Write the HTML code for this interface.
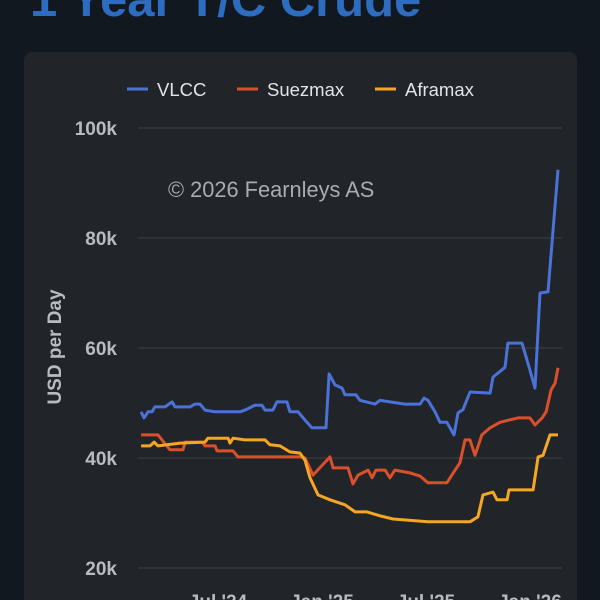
<!DOCTYPE html>
<html><head><meta charset="utf-8">
<style>
html,body{margin:0;padding:0;background:#121820;width:600px;height:600px;overflow:hidden;font-family:"Liberation Sans",sans-serif;position:relative;}
#title{position:absolute;left:30px;top:-28px;font-size:49px;font-weight:bold;color:#2e6cc0;white-space:nowrap;line-height:56px;}
#card{position:absolute;left:24px;top:52px;width:553px;height:548px;background:#212428;border-radius:8px 8px 0 0;}
svg{position:absolute;left:0;top:0;}
</style></head><body>
<div id="title">1 Year T/C Crude</div>
<div id="card"></div>
<svg id="chart" width="600" height="600"></svg>
<script>
const yTicks=[20,40,60,80,100];
const xTickLabels=["Jul '24","Jan '25","Jul '25","Jan '26"];
const xTickMonths=[0,6,12,18];
const vlccT=[-4.44,-4.27,-4.04,-3.81,-3.64,-3.06,-2.65,-2.48,-1.62,-1.33,-1.04,-0.75,-0.17,1.27,1.56,2.13,2.54,2.71,3.17,3.40,3.98,4.15,4.62,5.02,5.42,6.23,6.41,6.75,7.16,7.33,7.96,8.19,9.06,9.35,9.92,10.79,11.66,11.89,12.12,12.52,12.81,13.21,13.62,13.85,14.14,14.54,15.70,15.87,16.56,16.73,17.54,18.00,18.29,18.58,19.04,19.62];
const vlccV=[48.4,47.3,48.4,48.4,49.3,49.3,50.2,49.3,49.3,49.8,49.8,48.7,48.4,48.4,48.7,49.6,49.6,48.7,48.7,50.2,50.2,48.4,48.4,46.9,45.5,45.5,55.3,53.3,52.7,51.5,51.5,50.5,49.8,50.5,50.2,49.8,49.8,50.9,50.5,48.4,46.5,46.5,44.2,48.2,48.8,52.0,51.8,54.7,56.5,60.9,60.9,56.0,52.7,70.0,70.2,92.4];
const suezT=[-4.44,-3.46,-2.77,-2.02,-1.90,-0.92,-0.75,-0.17,-0.06,0.87,1.15,4.73,5.02,5.48,6.46,6.64,7.50,7.79,8.08,8.66,8.89,9.12,9.64,9.92,10.21,11.08,11.66,12.12,13.21,13.68,13.96,14.25,14.54,14.83,15.23,15.70,16.27,17.31,18.00,18.29,18.70,18.93,19.22,19.45,19.62];
const suezV=[44.2,44.2,41.5,41.5,42.9,42.9,42.2,42.2,41.3,41.3,40.2,40.2,40.0,36.9,40.2,38.2,38.2,35.3,36.9,37.8,36.4,37.8,37.8,36.4,37.8,37.3,36.7,35.5,35.5,37.8,39.1,43.3,43.3,40.5,44.2,45.5,46.5,47.3,47.3,46.0,47.3,48.4,52.4,53.6,56.4];
const afraT=[-4.44,-3.92,-3.69,-3.46,-2.19,-0.75,-0.58,0.58,0.69,0.87,1.56,2.71,3.00,3.58,4.15,4.73,5.02,5.31,5.77,6.46,7.33,7.91,8.60,9.35,10.10,12.12,14.54,15.00,15.29,15.87,16.10,16.68,16.79,18.18,18.47,18.76,19.16,19.62];
const afraV=[42.2,42.2,42.9,42.2,42.7,42.9,43.6,43.6,42.7,43.6,43.3,43.3,42.4,42.2,41.1,40.9,39.6,36.4,33.3,32.4,31.5,30.2,30.2,29.5,28.9,28.4,28.4,29.3,33.3,33.8,32.4,32.4,34.2,34.2,40.2,40.5,44.2,44.2];
const NS='http://www.w3.org/2000/svg';
const svg=document.getElementById('chart');
const xS=t=>218+t*17.33;
const yS=v=>128+(100-v)*5.5;
function mk(tag,attrs,parent){const e=document.createElementNS(NS,tag);for(const k in attrs)e.setAttribute(k,attrs[k]);(parent||svg).appendChild(e);return e;}
yTicks.forEach(v=>{
  const l=mk('line',{x1:138,x2:562,y1:yS(v),y2:yS(v),stroke:'#3d4146','stroke-width':1});
  
  
  const t=mk('text',{x:117,y:yS(v)+7,'text-anchor':'end',fill:'#b8bcc2','font-size':19,'font-weight':'bold'});
  t.textContent=v+'k';
  
  
});
xTickMonths.forEach((m,i)=>{
  const t=mk('text',{x:xS(m),y:608,'text-anchor':'middle',fill:'#b8bcc2','font-size':19,'font-weight':'bold'});
  t.textContent=xTickLabels[i];
  
  
});
const yt=mk('text',{x:0,y:0,transform:'translate(61,347) rotate(-90)','text-anchor':'middle',fill:'#b8bcc2','font-size':19,'font-weight':'bold'});
yt.textContent='USD per Day';


const wm=mk('text',{x:168,y:197,fill:'#a8abb0','font-size':21.8});
wm.textContent='© 2026 Fearnleys AS';


const series=[['vlcc',vlccT,vlccV,'#4a72d8','VLCC',127],['suezmax',suezT,suezV,'#d9502a','Suezmax',237],['aframax',afraT,afraV,'#f5a623','Aframax',375]];
series.forEach(s=>{
  const d=s[1].map((t,i)=>(i?'L':'M')+xS(t).toFixed(1)+','+yS(s[2][i]).toFixed(1)).join('');
  const p=mk('path',{d:d,fill:'none',stroke:s[3],'stroke-width':3,'stroke-linejoin':'round'});
  
  
  const g=mk('g',{});
  
  
  mk('line',{x1:s[5],x2:s[5]+21,y1:89,y2:89,stroke:s[3],'stroke-width':3},g);
  const t=mk('text',{x:s[5]+30,y:96,fill:'#e2e4e6','font-size':18.5},g);
  t.textContent=s[4];
});
</script>
</body></html>
